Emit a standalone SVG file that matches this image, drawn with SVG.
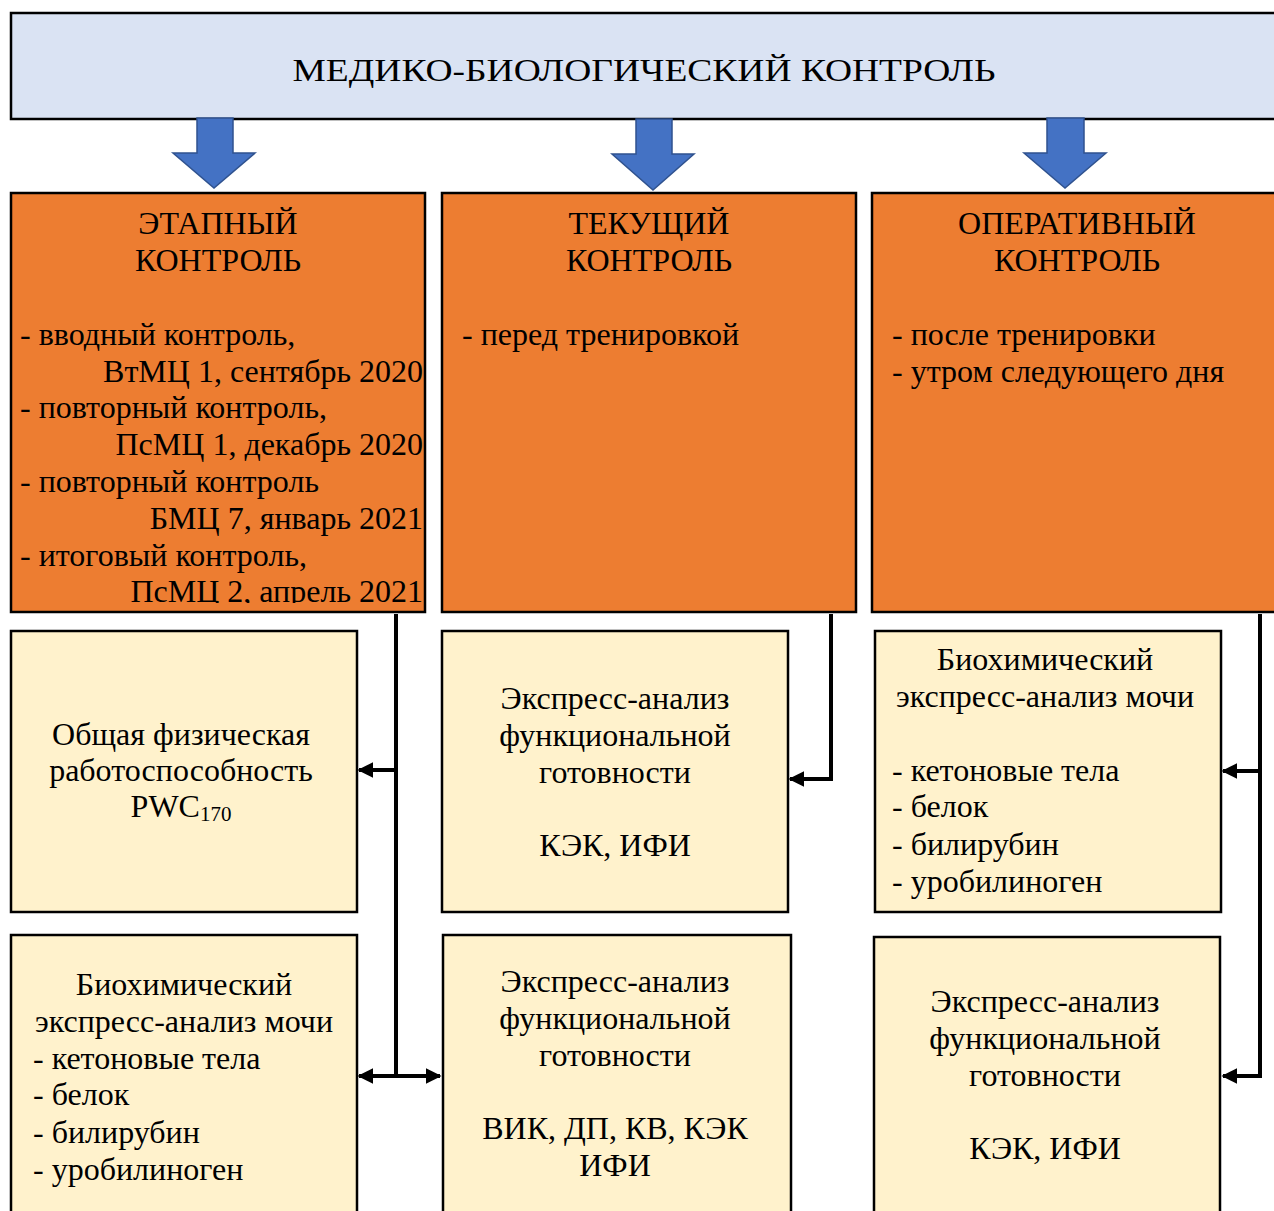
<svg xmlns="http://www.w3.org/2000/svg" width="1274" height="1211" viewBox="0 0 1274 1211">
<style>
text{font-family:"Liberation Serif","Times New Roman",serif;fill:#000;font-size:32px}
.mid{text-anchor:middle}
.end{text-anchor:end}
.hdr{fill:#DAE3F3;stroke:#000;stroke-width:2.5}
.org{fill:#ED7D31;stroke:#000;stroke-width:2.5}
.lt{fill:#FFF2CC;stroke:#000;stroke-width:2.5}
.barr{fill:#4472C4;stroke:#2F528F;stroke-width:1.5}
.con{fill:none;stroke:#000;stroke-width:4}
</style>
<defs>
<marker id="ah" viewBox="0 0 10 10" refX="9" refY="5" markerWidth="16" markerHeight="16" markerUnits="userSpaceOnUse" orient="auto-start-reverse">
<path d="M0,0 L10,5 L0,10 Z" fill="#000"/>
</marker>
<clipPath id="c1"><rect x="11" y="193" width="414" height="410"/></clipPath>
</defs>
<rect width="1274" height="1211" fill="#fff"/>

<g id="header">
<rect class="hdr" x="11" y="13" width="1280" height="106"/>
<text class="mid" x="644" y="81" font-size="43" textLength="703" lengthAdjust="spacingAndGlyphs">МЕДИКО-БИОЛОГИЧЕСКИЙ КОНТРОЛЬ</text>
</g>

<g id="block-arrows">
<polygon class="barr" points="197,118 233,118 233,153 255,153 214,188 173,153 197,153"/>
<polygon class="barr" points="636,119 672,119 672,154 694,154 653,190 612,154 636,154"/>
<polygon class="barr" points="1047,118 1084,118 1084,153 1106,153 1065,188 1024,153 1047,153"/>
</g>

<g id="stage">
<rect class="org" x="11" y="193" width="414" height="419"/>
<g clip-path="url(#c1)">
<text class="mid" x="218" y="234">ЭТАПНЫЙ</text>
<text class="mid" x="218" y="271">КОНТРОЛЬ</text>
<text x="20" y="345">- вводный контроль,</text>
<text class="end" x="423" y="382">ВтМЦ 1, сентябрь 2020</text>
<text x="20" y="418">- повторный контроль,</text>
<text class="end" x="423" y="455">ПсМЦ 1, декабрь 2020</text>
<text x="20" y="492">- повторный контроль</text>
<text class="end" x="423" y="529">БМЦ 7, январь 2021</text>
<text x="20" y="566">- итоговый контроль,</text>
<text class="end" x="423" y="602">ПсМЦ 2, апрель 2021</text>
</g>
</g>

<g id="current">
<rect class="org" x="442" y="193" width="414" height="419"/>
<text class="mid" x="649" y="234">ТЕКУЩИЙ</text>
<text class="mid" x="649" y="271">КОНТРОЛЬ</text>
<text x="462" y="345">- перед тренировкой</text>
</g>

<g id="operative">
<rect class="org" x="872" y="193" width="420" height="419"/>
<text class="mid" x="1077" y="234">ОПЕРАТИВНЫЙ</text>
<text class="mid" x="1077" y="271">КОНТРОЛЬ</text>
<text x="892" y="345">- после тренировки</text>
<text x="892" y="382">- утром следующего дня</text>
</g>

<g id="pwc">
<rect class="lt" x="11" y="631" width="346" height="281"/>
<text class="mid" x="181" y="745">Общая физическая</text>
<text class="mid" x="181" y="781">работоспособность</text>
<text class="mid" x="181" y="817">PWC<tspan font-size="21" dy="4">170</tspan></text>
</g>

<g id="express1">
<rect class="lt" x="442" y="631" width="346" height="281"/>
<text class="mid" x="615" y="709">Экспресс-анализ</text>
<text class="mid" x="615" y="746">функциональной</text>
<text class="mid" x="615" y="783">готовности</text>
<text class="mid" x="615" y="856">КЭК, ИФИ</text>
</g>

<g id="bio1">
<rect class="lt" x="875" y="631" width="346" height="281"/>
<text class="mid" x="1045" y="670">Биохимический</text>
<text class="mid" x="1045" y="707">экспресс-анализ мочи</text>
<text x="892" y="781">- кетоновые тела</text>
<text x="892" y="817">- белок</text>
<text x="892" y="855">- билирубин</text>
<text x="892" y="892">- уробилиноген</text>
</g>

<g id="bio2">
<rect class="lt" x="11" y="935" width="346" height="290"/>
<text class="mid" x="184" y="995">Биохимический</text>
<text class="mid" x="184" y="1032">экспресс-анализ мочи</text>
<text x="33" y="1069">- кетоновые тела</text>
<text x="33" y="1105">- белок</text>
<text x="33" y="1143">- билирубин</text>
<text x="33" y="1180">- уробилиноген</text>
</g>

<g id="express2">
<rect class="lt" x="443" y="935" width="348" height="290"/>
<text class="mid" x="615" y="992">Экспресс-анализ</text>
<text class="mid" x="615" y="1029">функциональной</text>
<text class="mid" x="615" y="1066">готовности</text>
<text class="mid" x="615" y="1139">ВИК, ДП, КВ, КЭК</text>
<text class="mid" x="615" y="1176">ИФИ</text>
</g>

<g id="express3">
<rect class="lt" x="874" y="937" width="346" height="290"/>
<text class="mid" x="1045" y="1012">Экспресс-анализ</text>
<text class="mid" x="1045" y="1049">функциональной</text>
<text class="mid" x="1045" y="1086">готовности</text>
<text class="mid" x="1045" y="1159">КЭК, ИФИ</text>
</g>

<g id="connectors">
<path class="con" d="M396,614 V1076"/>
<path class="con" d="M396,770 H359" marker-end="url(#ah)"/>
<path class="con" d="M359,1076 H440" marker-start="url(#ah)" marker-end="url(#ah)"/>
<path class="con" d="M831,614 V779 H790" marker-end="url(#ah)"/>
<path class="con" d="M1260,614 V1076 H1223" marker-end="url(#ah)"/>
<path class="con" d="M1260,771 H1223" marker-end="url(#ah)"/>
</g>
</svg>
